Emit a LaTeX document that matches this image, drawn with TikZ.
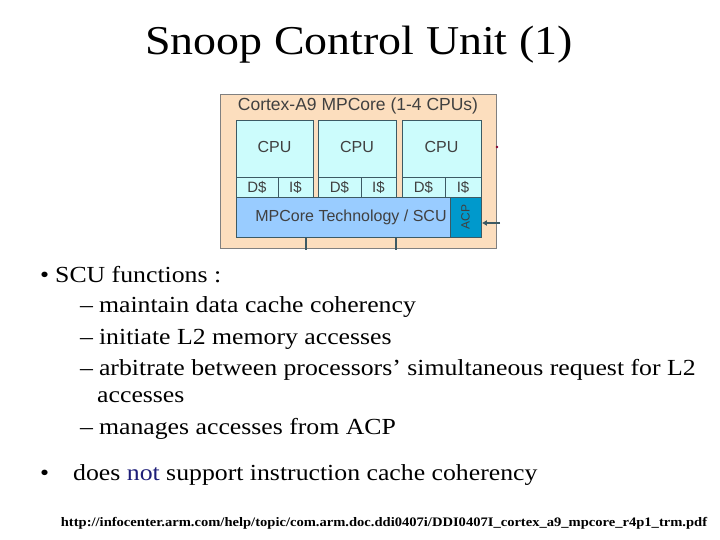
\documentclass[tikz,border=0pt]{standalone}
\usepackage{fontspec}
\setmainfont[FakeStretch=1.12]{Liberation Serif}
\newfontfamily\diag{Liberation Sans}
\usetikzlibrary{arrows.meta}
\definecolor{outerc}{RGB}{252,222,190}
\definecolor{cpuc}{RGB}{204,252,252}
\definecolor{scuc}{RGB}{153,204,255}
\definecolor{acpc}{RGB}{0,153,204}
\definecolor{bordc}{RGB}{60,90,100}
\definecolor{notc}{RGB}{30,30,120}
\tikzset{
 box/.style={draw=bordc,line width=0.8pt,inner sep=0pt},
 dtxt/.style={font=\diag\fontsize{16}{16}\selectfont,text=black!75},
 body/.style={anchor=west,inner sep=0pt,font=\fontsize{23}{24}\selectfont},
}
\begin{document}
\begin{tikzpicture}[x=1pt,y=-1pt]
\useasboundingbox (0,0) rectangle (720,540);
\node (title) at (359,45) {\fontsize{41}{44}\selectfont Snoop Control Unit (1)};
% diagram
\node[box,draw=gray,fill=outerc,minimum width=276,minimum height=154,anchor=north west] (outer) at (220,94) {};
\node[dtxt,font=\diag\fontsize{17.5}{17}\selectfont] (otitle) at (358,106) {Cortex-A9 MPCore (1-4 CPUs)};
\foreach \i/\xa/\xb/\xm in {1/236/313/278,2/318/396/361,3/402/481/445}{
 \node[box,fill=cpuc,minimum width=\xb-\xa,minimum height=57,anchor=north west,dtxt] (cpu\i) at (\xa,120) {};
 \node[dtxt] at ({(\xa+\xb)/2},147) {CPU};
 \node[box,fill=cpuc,minimum width=\xm-\xa,minimum height=20,anchor=north west] (d\i) at (\xa,177) {};
 \node[dtxt,font=\diag\fontsize{15}{15}\selectfont] at ({(\xa+\xm)/2},187) {D\$};
 \node[box,fill=cpuc,minimum width=\xb-\xm,minimum height=20,anchor=north west] (i\i) at (\xm,177) {};
 \node[dtxt,font=\diag\fontsize{15}{15}\selectfont] at ({(\xm+\xb)/2},187) {I\$};
}
\node[box,fill=scuc,minimum width=245,minimum height=40,anchor=north west] (scu) at (236,197) {};
\node[dtxt] at (351,217) {MPCore Technology / SCU};
\node[box,fill=acpc,minimum width=31,minimum height=40,anchor=north west] (acp) at (450,197) {};
\node[dtxt,rotate=90,font=\diag\fontsize{12}{12}\selectfont] at (465.5,217) {ACP};
\coordinate (a1) at (306,237); \coordinate (a2) at (306,250);
\coordinate (b1) at (396,237); \coordinate (b2) at (396,250);
\draw[bordc,line width=1.5pt] (a1)--(a2) (b1)--(b2);
\coordinate (acpin) at (500,223);
\draw[bordc,line width=1.8pt,-{Latex[length=5pt,width=6pt]}] (acpin)--(acp.east |- acpin);
\coordinate (dot) at (497,147);
\fill[purple!70!black] (dot) circle (1.3);
% text
\node[body] (b1) at (40,275) {\textbullet\hspace{6pt}SCU functions :};
\node[body] (l1) at (80,307) {–\hspace{6pt}maintain data cache coherency};
\node[body] (l2) at (80,339) {–\hspace{6pt}initiate L2 memory accesses};
\node[body] (l3) at (80,370) {–\hspace{6pt}arbitrate between processors’ simultaneous request for L2};
\node[body] (l3b) at (97,397) {accesses};
\node[body] (l4) at (80,429) {–\hspace{6pt}manages accesses from ACP};
\node[body] (b2) at (40,475) {\textbullet\hspace{24pt}does \textcolor{notc}{not} support instruction cache coherency};
\node[anchor=center,inner sep=0pt] (url) at (384,523) {\fontsize{13}{14}\selectfont\bfseries http://infocenter.arm.com/help/topic/com.arm.doc.ddi0407i/DDI0407I\_cortex\_a9\_mpcore\_r4p1\_trm.pdf};
\end{tikzpicture}
\end{document}
